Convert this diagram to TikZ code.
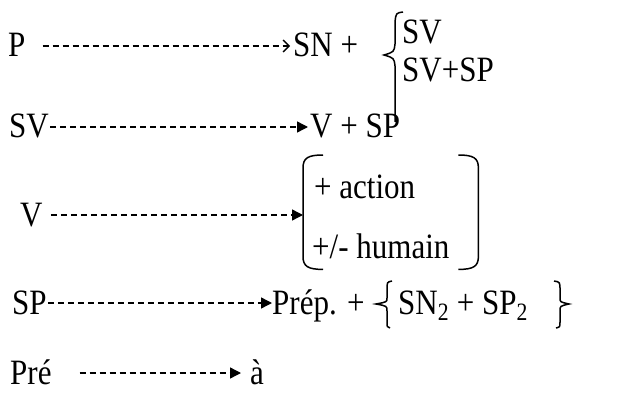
\documentclass[tikz,border=0pt]{standalone}
\usepackage{fontspec}
\setmainfont{Liberation Serif}
\usetikzlibrary{arrows.meta,positioning}
\newcommand{\tallbox}[1]{\scalebox{1}[1.15]{#1}}

\begin{document}
\begin{tikzpicture}[
    x=1pt,y=-1pt,
    lbl/.style={anchor=base west,inner sep=0pt,text height=22pt,text depth=0pt,font=\fontsize{31}{36}\selectfont},
    rule/.style={line width=1.4pt,dash pattern=on 6pt off 4pt,-{Triangle[length=11pt,width=11pt]}},
    openrule/.style={line width=1.4pt,dash pattern=on 6pt off 4pt,-{Straight Barb[length=6pt,width=12pt,line width=1.3pt]}},
    brk/.style={line width=1.5pt}
  ]
    \useasboundingbox (0,0) rectangle (644,398);
    \node[lbl] (p) at (8,57) {\tallbox{P}};
    \node[lbl] (sn) at (293,57) {\tallbox{SN +}};
    \node[lbl] (sv1) at (402,44) {\tallbox{SV}};
    \node[lbl] (svsp) at (402,82) {\tallbox{SV+SP}};
    \node[lbl] (sv) at (9,138) {\tallbox{SV}};
    \node[lbl] (vsp) at (310,138) {\tallbox{V + SP}};
    \node[lbl] (v) at (20,226) {\tallbox{V}};
    \node[anchor=north west,inner sep=0pt,minimum width=175pt,minimum height=114pt] (feat) at (303,155) {};
    \node[lbl] (action) at (314,198) {\tallbox{+ action}};
    \node[lbl] (humain) at (312,258) {\tallbox{+/- humain}};
    \node[lbl] (sp) at (12,314) {\tallbox{SP}};
    \node[lbl] (prep) at (272,314) {\tallbox{Prép. +}};
    \node[lbl] (snsp) at (398,314) {\tallbox{SN\textsubscript{2} + SP\textsubscript{2}}};
    \node[lbl] (pre) at (10,384) {\tallbox{Pré}};
    \node[lbl] (a) at (250,384) {\tallbox{à}};
    \draw[openrule,shorten <=17pt,shorten >=3pt] (p) -- (sn);
    \draw[rule,shorten <=1pt,shorten >=2pt] (sv) -- (vsp);
    \draw[rule,shorten <=8pt] (v.east) -- (v.east -| feat.west);
    \draw[rule,shorten <=1pt] (sp) -- (prep);
    \draw[rule,shorten <=28pt,shorten >=9pt] (pre) -- (a);
    \draw[brk] (403,12) .. controls (396,13) .. (395,22) -- (395,44)
      .. controls (394,52) .. (384,55) .. controls (394,58) .. (395,66) -- (395,122);
    \draw[brk] (feat.north west) ++(20,0) .. controls +(-15,0) and +(0,-10) .. ++(-20,13)
      -- ([yshift=13pt]feat.south west) .. controls +(0,10) and +(-15,0) .. ++(20,13);
    \draw[brk] (feat.north east) ++(-20,0) .. controls +(15,0) and +(0,-10) .. ++(20,13)
      -- ([yshift=13pt]feat.south east) .. controls +(0,10) and +(15,0) .. ++(-20,13);
    \draw[brk] (392,281) .. controls (387,282) .. (387,290) -- (387,298)
      .. controls (387,302) .. (376,304) .. controls (387,306) .. (387,311) -- (387,322)
      .. controls (387,327) .. (390,328);
    \draw[brk] (554,281) .. controls (560,282) .. (560,290) -- (560,298)
      .. controls (560,302) .. (569,304) .. controls (560,306) .. (560,311) -- (560,322)
      .. controls (560,327) .. (556,328);
  \end{tikzpicture}
\end{document}
